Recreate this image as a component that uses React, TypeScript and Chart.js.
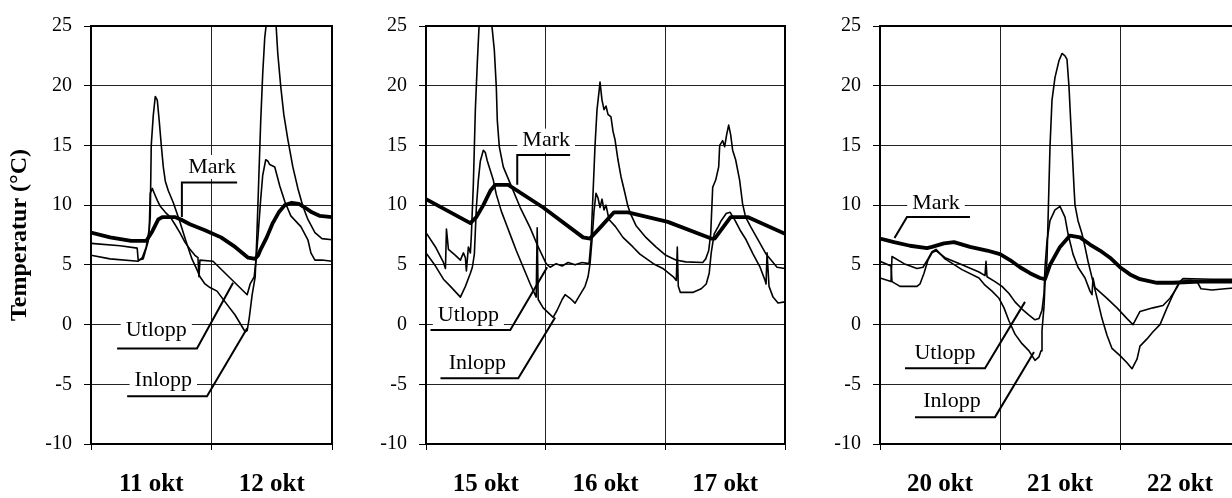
import React, { useEffect, useRef } from "react";
import { Chart, registerables } from "chart.js";

Chart.register(...registerables);

const SERIF = "'Liberation Serif', 'Times New Roman', Times, serif";

// ---------- shared axis settings ----------
const Y_MIN = -10;
const Y_MAX = 25;
const Y_STEP = 5;
const Y_TITLE = "Temperatur (°C)";

// ---------- Panel 1 : 11–12 okt (x = hours from start of first day) ----------
const p1Days = ["11 okt", "12 okt"];
const p1MarkH = [0, 3.8, 8.0, 11.0, 12.2, 13.4, 14.2, 16.7, 17.9, 19.7, 22.7, 25.9, 28.7, 31.3, 32.7, 33.3, 33.8, 35.0, 36.2, 37.4, 38.6, 40.0, 41.4, 42.6, 44.0, 45.6, 48.0];
const p1MarkV = [7.7, 7.3, 7.0, 7.0, 7.8, 8.8, 9.0, 9.0, 8.8, 8.4, 7.9, 7.3, 6.5, 5.6, 5.5, 5.8, 6.3, 7.3, 8.5, 9.4, 10.0, 10.2, 10.1, 9.8, 9.4, 9.1, 9.0];
const p1InH = [0, 5.8, 9.2, 9.4, 10.4, 11.4, 11.8, 12.0, 12.4, 12.8, 13.2, 13.6, 14.0, 14.4, 14.8, 15.4, 16.4, 17.7, 18.9, 20.1, 21.1, 21.7, 22.7, 23.7, 25.1, 26.7, 28.7, 30.7, 31.1, 31.5, 32.1, 32.7, 33.0, 33.4, 33.8, 34.2, 34.6, 35.0, 36.8, 37.2, 37.8, 38.4, 39.2, 40.2, 41.2, 42.2, 43.2, 44.6, 46.0, 48.0];
const p1InV = [6.8, 6.6, 6.4, 5.4, 5.5, 7.0, 9.0, 15.0, 17.5, 19.1, 18.8, 17.0, 15.0, 13.2, 12.0, 11.2, 10.2, 8.6, 7.0, 5.5, 4.6, 4.0, 3.4, 3.1, 2.8, 1.9, 0.8, -0.6, -0.5, 0.5, 2.5, 4.0, 7.0, 12.0, 17.0, 21.0, 24.0, 25.5, 25.5, 22.7, 19.9, 17.6, 15.5, 13.2, 11.4, 9.9, 8.8, 7.7, 7.2, 7.1];
const p1UtH = [0, 3.8, 9.4, 10.2, 11.0, 11.6, 11.8, 12.2, 12.6, 13.2, 13.8, 14.8, 15.8, 16.7, 17.7, 18.7, 19.7, 20.7, 21.3, 21.5, 21.7, 24.3, 27.7, 31.1, 31.7, 32.5, 32.9, 33.3, 33.8, 34.2, 34.8, 35.2, 35.6, 36.6, 37.6, 38.6, 39.8, 41.8, 43.2, 43.8, 44.6, 46.0, 48.0];
const p1UtV = [5.8, 5.5, 5.3, 5.6, 6.5, 8.0, 11.0, 11.4, 11.0, 10.4, 9.9, 9.4, 9.0, 8.4, 7.7, 6.9, 6.3, 5.8, 5.6, 4.0, 5.4, 5.3, 3.9, 2.5, 3.4, 4.0, 5.5, 7.6, 10.5, 12.5, 13.8, 13.7, 13.4, 13.2, 11.6, 10.3, 9.1, 8.2, 7.1, 6.0, 5.4, 5.4, 5.3];

// ---------- Panel 2 : 15–17 okt ----------
const p2Days = ["15 okt", "16 okt", "17 okt"];
const p2MarkH = [0, 8.9, 10.1, 11.5, 12.9, 13.9, 16.5, 23.5, 31.5, 32.9, 35.1, 37.7, 40.5, 48.5, 57.2, 57.9, 61.1, 64.5, 72.0];
const p2MarkV = [10.5, 8.5, 9.0, 10.0, 11.2, 11.7, 11.7, 9.8, 7.3, 7.2, 8.2, 9.4, 9.4, 8.6, 7.2, 7.2, 9.0, 9.0, 7.6];
const p2UtH = [0, 1.9, 3.5, 3.9, 4.1, 4.5, 5.9, 6.9, 7.5, 7.9, 8.1, 8.5, 8.9, 9.1, 9.5, 9.9, 10.3, 10.7, 13.1, 13.7, 14.1, 14.3, 14.7, 15.5, 16.9, 18.9, 20.9, 22.5, 24.1, 24.9, 26.1, 27.3, 28.5, 29.9, 31.3, 32.7, 33.1, 33.5, 33.9, 34.3, 34.7, 34.9, 35.3, 35.7, 36.1, 36.5, 37.1, 37.5, 37.9, 38.5, 39.1, 39.9, 40.5, 41.1, 42.1, 44.1, 46.1, 48.1, 50.1, 52.1, 55.5, 56.1, 56.7, 57.1, 57.5, 58.1, 58.7, 58.9, 59.5, 59.9, 60.3, 60.7, 61.1, 61.5, 62.1, 62.9, 63.5, 64.1, 65.1, 66.6, 68.2, 69.2, 70.4, 72.0];
const p2UtV = [7.7, 6.5, 5.2, 4.7, 8.0, 6.3, 5.8, 5.4, 6.0, 5.6, 4.5, 6.5, 6.0, 7.5, 11.8, 18.0, 22.0, 25.5, 25.5, 23.0, 19.9, 17.1, 14.9, 13.2, 11.8, 9.8, 8.1, 6.5, 5.1, 4.8, 5.1, 4.9, 5.2, 5.0, 5.2, 5.1, 7.0, 11.0, 15.0, 18.0, 19.5, 20.3, 18.8, 18.0, 18.3, 17.6, 17.4, 16.2, 15.5, 13.8, 12.4, 11.0, 9.9, 9.2, 8.3, 7.3, 6.5, 5.8, 5.4, 5.25, 5.2, 5.5, 6.2, 7.6, 11.5, 12.1, 13.2, 15.0, 15.4, 14.9, 15.9, 16.7, 15.9, 14.6, 13.8, 12.1, 10.1, 9.0, 8.2, 7.1, 5.9, 5.4, 4.8, 4.7];
const p2InH = [0, 1.9, 3.5, 4.9, 6.9, 7.9, 8.9, 9.3, 9.7, 10.1, 10.5, 10.9, 11.5, 11.9, 12.3, 12.9, 13.5, 14.1, 15.1, 16.1, 17.1, 18.1, 19.5, 20.9, 22.1, 22.3, 22.5, 23.5, 24.5, 25.5, 26.3, 27.3, 27.9, 28.9, 29.9, 30.9, 31.9, 32.5, 32.9, 33.3, 33.7, 34.1, 34.5, 34.9, 35.3, 35.7, 36.1, 36.7, 38.0, 39.5, 41.5, 42.9, 45.6, 47.5, 49.6, 50.2, 50.4, 50.6, 51.0, 53.6, 55.2, 56.2, 56.8, 57.2, 57.8, 58.6, 59.2, 60.2, 61.0, 62.0, 63.0, 64.2, 65.6, 67.0, 68.0, 68.2, 68.4, 68.8, 69.6, 70.6, 72.0];
const p2InV = [6.0, 4.9, 3.8, 3.2, 2.3, 3.2, 4.3, 4.8, 5.9, 9.8, 12.1, 13.7, 14.6, 14.4, 13.7, 12.9, 12.1, 10.9, 9.5, 8.4, 7.3, 6.2, 4.8, 3.4, 2.3, 8.1, 2.1, 1.4, 1.0, 0.6, 1.2, 2.1, 2.5, 2.2, 1.8, 2.5, 3.2, 4.0, 5.1, 7.1, 9.5, 11.0, 10.6, 9.8, 10.5, 9.6, 10.0, 8.8, 8.2, 7.3, 6.5, 5.9, 5.1, 4.7, 4.0, 3.7, 6.5, 3.2, 2.7, 2.7, 3.0, 3.4, 4.3, 6.0, 7.6, 8.2, 8.7, 9.3, 9.4, 8.7, 7.9, 7.1, 5.9, 4.8, 3.7, 3.4, 6.0, 3.2, 2.3, 1.8, 1.9];

// ---------- Panel 3 : 20–22 okt ----------
const p3Days = ["20 okt", "21 okt", "22 okt"];
const p3MarkH = [0, 2.8, 6.0, 9.4, 10.4, 12.8, 14.8, 18.0, 21.4, 24.0, 26.0, 28.0, 30.0, 32.0, 33.0, 34.0, 36.0, 38.0, 40.0, 42.0, 44.0, 46.0, 48.0, 50.0, 52.0, 55.4, 58.6, 64.0, 72.0];
const p3MarkV = [7.2, 6.9, 6.6, 6.4, 6.5, 6.8, 6.9, 6.5, 6.2, 5.9, 5.4, 4.8, 4.3, 3.9, 3.8, 5.0, 6.5, 7.45, 7.3, 6.7, 6.2, 5.6, 4.8, 4.2, 3.8, 3.5, 3.5, 3.6, 3.6];
const p3UtH = [0, 2.2, 2.4, 4.0, 7.4, 8.0, 8.8, 9.6, 10.4, 11.2, 13.0, 16.4, 19.8, 21.0, 21.2, 21.4, 23.0, 24.4, 25.8, 27.0, 28.4, 29.8, 31.0, 31.8, 32.4, 32.8, 33.0, 33.4, 34.0, 35.0, 36.0, 37.0, 37.6, 38.6, 39.6, 41.0, 42.0, 42.4, 42.6, 43.0, 45.4, 47.4, 49.4, 50.6, 52.0, 54.6, 56.6, 58.0, 59.4, 60.0, 62.0, 63.4, 64.2, 66.4, 69.0, 72.0];
const p3UtV = [5.3, 4.9, 3.6, 3.2, 3.2, 3.4, 4.3, 5.4, 6.0, 6.2, 5.6, 5.0, 4.4, 4.1, 5.3, 4.0, 3.6, 3.2, 2.6, 1.9, 1.3, 0.8, 0.4, 0.5, 1.2, 2.6, 4.8, 7.0, 8.7, 9.6, 9.9, 9.0, 7.6, 5.9, 4.8, 3.9, 2.8, 2.5, 3.9, 3.1, 2.2, 1.4, 0.5, 0.0, 1.1, 1.4, 1.6, 2.2, 3.1, 3.6, 3.7, 3.6, 3.0, 2.9, 3.0, 3.1];
const p3InH = [0, 2.2, 2.4, 4.8, 7.4, 8.6, 9.6, 10.4, 11.2, 13.0, 16.4, 19.8, 21.0, 22.4, 23.8, 24.8, 25.8, 27.0, 28.4, 29.8, 31.0, 31.8, 32.2, 32.4, 32.8, 33.0, 33.4, 33.8, 34.0, 34.4, 35.0, 35.8, 36.4, 37.0, 37.4, 37.8, 38.0, 38.4, 38.8, 39.0, 39.6, 40.4, 41.0, 41.6, 42.6, 43.6, 44.4, 45.4, 46.4, 48.0, 49.4, 50.4, 51.4, 52.0, 53.4, 54.6, 56.0, 57.4, 58.6, 59.4, 60.0, 60.6, 66.4, 72.0];
const p3InV = [3.9, 3.6, 5.7, 5.1, 4.7, 4.8, 5.5, 6.1, 6.3, 5.5, 4.6, 3.9, 3.3, 2.8, 2.2, 1.4, 0.3, -0.8, -1.6, -2.2, -3.0, -2.7, -2.2, -0.5, 1.5, 3.4, 5.4, 11.8, 14.9, 18.8, 20.7, 22.1, 22.7, 22.5, 22.2, 19.9, 18.2, 14.9, 11.5, 10.0, 8.7, 7.6, 6.5, 5.3, 3.6, 1.9, 0.5, -0.9, -2.0, -2.6, -3.2, -3.7, -2.9, -1.8, -1.2, -0.6, 0.0, 1.4, 2.5, 3.2, 3.6, 3.85, 3.8, 3.8];

// ---------- callout labels (text centre + leader line, in data units) ----------
type Pt = [number, number];
type Label = { text: string; at: Pt; path: Pt[] };

const p1Labels: Label[] = [
  { text: "Mark", at: [24.1, 13.2], path: [[18.1, 9.0], [18.1, 11.9], [29.1, 11.9]] },
  { text: "Utlopp", at: [13.0, -0.5], path: [[5.2, -2.0], [21.1, -2.0], [28.3, 3.5]] },
  { text: "Inlopp", at: [14.4, -4.65], path: [[7.2, -6.0], [23.1, -6.0], [31.1, -0.3]] },
];
const p2Labels: Label[] = [
  { text: "Mark", at: [24.1, 15.4], path: [[18.3, 11.7], [18.3, 14.2], [28.9, 14.2]] },
  { text: "Utlopp", at: [8.5, 0.8], path: [[0.9, -0.45], [16.9, -0.45], [24.3, 4.8]] },
  { text: "Inlopp", at: [10.3, -3.2], path: [[2.9, -4.5], [18.5, -4.5], [25.9, 0.6]] },
];
const p3Labels: Label[] = [
  { text: "Mark", at: [11.2, 10.2], path: [[2.9, 7.25], [5.4, 9.0], [18.0, 9.0]] },
  { text: "Utlopp", at: [13.0, -2.4], path: [[5.0, -3.65], [21.0, -3.65], [29.0, 1.9]] },
  { text: "Inlopp", at: [14.4, -6.4], path: [[7.0, -7.75], [23.0, -7.75], [30.8, -2.3]] },
];

// ---------- layout of the three panels ----------
type PanelSpec = {
  days: string[];
  series: { name: string; t: number[]; v: number[]; width: number }[];
  labels: Label[];
  left: number;
  width: number;
  yWidth: number;
  title: boolean;
};

const THIN = 1.6;
const THICK = 3.8;
const X_LABEL_PAD = 20; // also the right-hand layout padding Chart.js reserves

const panels: PanelSpec[] = [
  {
    days: p1Days,
    series: [
      { name: "Inlopp", t: p1InH, v: p1InV, width: THIN },
      { name: "Utlopp", t: p1UtH, v: p1UtV, width: THIN },
      { name: "Mark", t: p1MarkH, v: p1MarkV, width: THICK },
    ],
    labels: p1Labels,
    left: 0,
    width: 352,
    yWidth: 91,
    title: true,
  },
  {
    days: p2Days,
    series: [
      { name: "Inlopp", t: p2InH, v: p2InV, width: THIN },
      { name: "Utlopp", t: p2UtH, v: p2UtV, width: THIN },
      { name: "Mark", t: p2MarkH, v: p2MarkV, width: THICK },
    ],
    labels: p2Labels,
    left: 340,
    width: 465,
    yWidth: 86,
    title: false,
  },
  {
    days: p3Days,
    series: [
      { name: "Inlopp", t: p3InH, v: p3InV, width: THIN },
      { name: "Utlopp", t: p3UtH, v: p3UtV, width: THIN },
      { name: "Mark", t: p3MarkH, v: p3MarkV, width: THICK },
    ],
    labels: p3Labels,
    left: 792,
    width: 468,
    yWidth: 88,
    title: false,
  },
];

const LABEL_FONT = `22px ${SERIF}`;

function calloutPlugin(labels: Label[]) {
  return {
    id: "callouts",
    beforeDatasetsDraw(chart: any) {
      const { ctx } = chart;
      const x = chart.scales.x;
      const y = chart.scales.y;
      ctx.save();
      ctx.font = LABEL_FONT;
      ctx.fillStyle = "#ffffff";
      for (const l of labels) {
        const cx = x.getPixelForValue(l.at[0]);
        const cy = y.getPixelForValue(l.at[1]);
        const w = ctx.measureText(l.text).width + 10;
        ctx.fillRect(cx - w / 2, cy - 12, w, 24);
      }
      ctx.restore();
    },
    afterDatasetsDraw(chart: any) {
      const { ctx } = chart;
      const x = chart.scales.x;
      const y = chart.scales.y;
      ctx.save();
      ctx.font = LABEL_FONT;
      ctx.fillStyle = "#000";
      ctx.textAlign = "center";
      ctx.textBaseline = "middle";
      ctx.strokeStyle = "#000";
      ctx.lineWidth = 2;
      ctx.lineJoin = "miter";
      for (const l of labels) {
        ctx.fillText(l.text, x.getPixelForValue(l.at[0]), y.getPixelForValue(l.at[1]));
        ctx.beginPath();
        l.path.forEach((p, i) => {
          const px = x.getPixelForValue(p[0]);
          const py = y.getPixelForValue(p[1]);
          if (i === 0) ctx.moveTo(px, py);
          else ctx.lineTo(px, py);
        });
        ctx.stroke();
      }
      ctx.restore();
    },
  };
}

const framePlugin = {
  id: "frame",
  afterDatasetsDraw(chart: any) {
    const { ctx, chartArea: a } = chart;
    ctx.save();
    ctx.strokeStyle = "#000";
    ctx.lineWidth = 2;
    ctx.strokeRect(a.left, a.top, a.right - a.left, a.bottom - a.top);
    ctx.restore();
  },
};

function makeConfig(p: PanelSpec): any {
  const maxH = p.days.length * 24;
  const isDayEdge = (v: number) => Math.abs(v % 24) < 1e-6;
  return {
    type: "line",
    data: {
      datasets: p.series.map((s) => ({
        label: s.name,
        data: s.t.map((t, i) => ({ x: t, y: s.v[i] })),
        borderColor: "#000",
        backgroundColor: "#000",
        borderWidth: s.width,
        pointRadius: 0,
        tension: 0,
        fill: false,
        borderJoinStyle: "round",
        borderCapStyle: "round",
      })),
    },
    options: {
      animation: false,
      responsive: false,
      maintainAspectRatio: false,
      devicePixelRatio: 1,
      events: [],
      layout: { padding: { left: 0, right: X_LABEL_PAD, top: 26, bottom: 0 } },
      plugins: {
        legend: { display: false },
        tooltip: { enabled: false },
        title: { display: false },
      },
      scales: {
        x: {
          type: "linear",
          min: 0,
          max: maxH,
          afterFit: (s: any) => {
            s.height = 54;
          },
          ticks: {
            stepSize: 12,
            autoSkip: false,
            maxRotation: 0,
            minRotation: 0,
            padding: X_LABEL_PAD,
            color: "#000",
            font: { family: SERIF, size: 25, weight: "bold" },
            callback: (v: number) => (Math.abs((v % 24) - 12) < 1e-6 ? p.days[Math.round((v - 12) / 24)] : ""),
          },
          grid: {
            color: (c: any) => (c.tick && isDayEdge(c.tick.value) ? "#222" : "rgba(0,0,0,0)"),
            tickColor: (c: any) => (c.tick && isDayEdge(c.tick.value) ? "#000" : "rgba(0,0,0,0)"),
            lineWidth: 1,
            tickLength: 6,
            drawTicks: true,
          },
          border: { display: true, color: "#000", width: 2 },
        },
        y: {
          type: "linear",
          min: Y_MIN,
          max: Y_MAX,
          afterFit: (s: any) => {
            s.width = p.yWidth;
          },
          ticks: {
            stepSize: Y_STEP,
            padding: 12,
            color: "#000",
            font: { family: SERIF, size: 20 },
          },
          grid: {
            color: "#222",
            tickColor: "#000",
            lineWidth: 1,
            tickLength: 7,
          },
          border: { display: true, color: "#000", width: 2 },
          title: {
            display: p.title,
            text: Y_TITLE,
            color: "#000",
            font: { family: SERIF, size: 24, weight: "bold" },
            padding: { top: 5, bottom: 0 },
          },
        },
      },
    },
    plugins: [calloutPlugin(p.labels), framePlugin],
  };
}

function PanelChart({ spec }: { spec: PanelSpec }) {
  const ref = useRef<HTMLCanvasElement | null>(null);
  useEffect(() => {
    if (!ref.current) return;
    const chart = new Chart(ref.current, makeConfig(spec));
    return () => chart.destroy();
  }, [spec]);
  return (
    <canvas
      ref={ref}
      width={spec.width}
      height={498}
      style={{ position: "absolute", left: spec.left, top: 0, width: spec.width, height: 498 }}
    />
  );
}

export default function App() {
  return (
    <div
      style={{
        position: "fixed",
        left: 0,
        top: 0,
        width: 1232,
        height: 498,
        overflow: "hidden",
        background: "#fff",
      }}
    >
      {panels.map((p, i) => (
        <PanelChart key={i} spec={p} />
      ))}
    </div>
  );
}
